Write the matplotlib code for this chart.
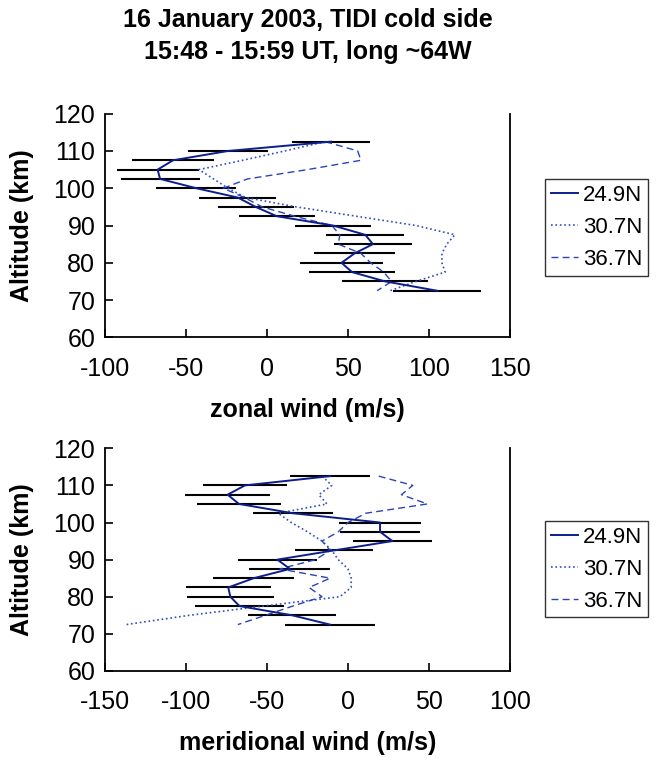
import matplotlib
matplotlib.use("Agg")
import matplotlib.pyplot as plt

plt.rcParams["font.family"] = ["Liberation Sans", "DejaVu Sans"]
plt.rcParams["axes.unicode_minus"] = False

# altitude levels (km), shared by all profiles
altitude = [112.5, 110, 107.5, 105, 102.5, 100, 97.5, 95, 92.5, 90,
            87.5, 85, 82.5, 80, 77.5, 75, 72.5]

# zonal wind (m/s)
zonal_249 = [39.5, -24, -58, -67.5, -66, -43.6, -18, -7, 6, 40.7,
             60.7, 65.4, 54, 46, 52.5, 73, 105]
zonal_249_err = [24.3, 24.7, 25.4, 25.3, 24.4, 24.7, 23.7, 23.4, 23.5, 23.7,
                 24.1, 24.2, 25.2, 25.9, 26.5, 26.7, 26.9]
zonal_307 = [36, 11, -15, -42, -33, -24, -13, 18, 55, 92,
             116, 111, 108, 108, 110, 92, 76]
zonal_367 = [36, 56, 58, 25, -12, -27, -14, -3, 17, 40,
             45, 44, 58, 64, 72, 77, 68]

# meridional wind (m/s)
merid_249 = [-11, -63.6, -74.3, -67.3, -34, 19.8, 19.8, 27.4, -8.4, -43.6,
             -35.8, -58.2, -73.9, -72.6, -67, -34.4, -11.1]
merid_249_err = [24.9, 25.7, 26.1, 25.7, 24.9, 25.1, 24.7, 24.2, 24.1, 24.3,
                 25, 25, 26.1, 27, 27.2, 27.3, 27.7]
merid_307 = [-16, -10, -18, -13, -43, -35, -25, -16, -10, -6,
             0, 2, 2, -5, -52, -98, -137]
merid_367 = [19, 40, 33, 49, 11, 0, -6, -16, -11, -20,
             -42, -11, -24, -16, -34, -51, -68]

labels = ["24.9N", "30.7N", "36.7N"]

fig = plt.figure(figsize=(6.57, 7.58), dpi=100)

fig.text(0.468, 0.9736, "16 January 2003, TIDI cold side", ha="center",
         va="center", fontsize=18, fontweight="bold")
fig.text(0.468, 0.931, "15:48 - 15:59 UT, long ~64W", ha="center",
         va="center", fontsize=18, fontweight="bold")


def draw_panel(rect, v249, err, v307, v367, xlim, xticks, xlabel, leg_top):
    ax = fig.add_axes(rect)
    ax.errorbar(v249, altitude, xerr=err, fmt="none", ecolor="black",
                elinewidth=1.5, capsize=0, zorder=1)
    ax.plot(v249, altitude, "-", color="#0b1e8c", lw=1.4, label=labels[0], zorder=3)
    ax.plot(v307, altitude, ":", color="#2f4fc0", lw=1.2, label=labels[1], zorder=2)
    ax.plot(v367, altitude, "--", color="#2a45b5", lw=1.0, label=labels[2],
            dashes=(5, 3), zorder=2)
    ax.set_xlim(xlim)
    ax.set_ylim(60, 120)
    ax.set_xticks(xticks)
    ax.set_yticks(range(60, 121, 10))
    ax.tick_params(axis="both", direction="in", length=6, width=1.2,
                   labelsize=18)
    ax.tick_params(axis="x", pad=14)
    ax.tick_params(axis="y", pad=7)
    for s in ax.spines.values():
        s.set_linewidth(1.3)
    ax.spines["top"].set_visible(False)
    ax.set_xlabel(xlabel, fontsize=18, fontweight="bold", va="center")
    ax.xaxis.set_label_coords(0.5, -0.325)
    ax.set_ylabel("Altitude (km)", fontsize=18, fontweight="bold", va="center")
    ax.yaxis.set_label_coords(-0.205, 0.5)
    leg = ax.legend(loc="upper left", bbox_to_anchor=(0.8295, leg_top),
                    bbox_transform=fig.transFigure, borderaxespad=0,
                    fontsize=16, frameon=True, fancybox=False,
                    handlelength=1.25, handletextpad=0.2, labelspacing=0.5,
                    borderpad=0.25)
    leg.get_frame().set_edgecolor("black")
    leg.get_frame().set_linewidth(1.0)
    return ax


draw_panel([0.1598, 0.555, 0.6164, 0.295], zonal_249, zonal_249_err,
           zonal_307, zonal_367, (-100, 150), range(-100, 151, 50),
           "zonal wind (m/s)", 0.7635)
draw_panel([0.1598, 0.1148, 0.6164, 0.2938], merid_249, merid_249_err,
           merid_307, merid_367, (-150, 100), range(-150, 101, 50),
           "meridional wind (m/s)", 0.3127)

fig.savefig("out.png", dpi=100)
